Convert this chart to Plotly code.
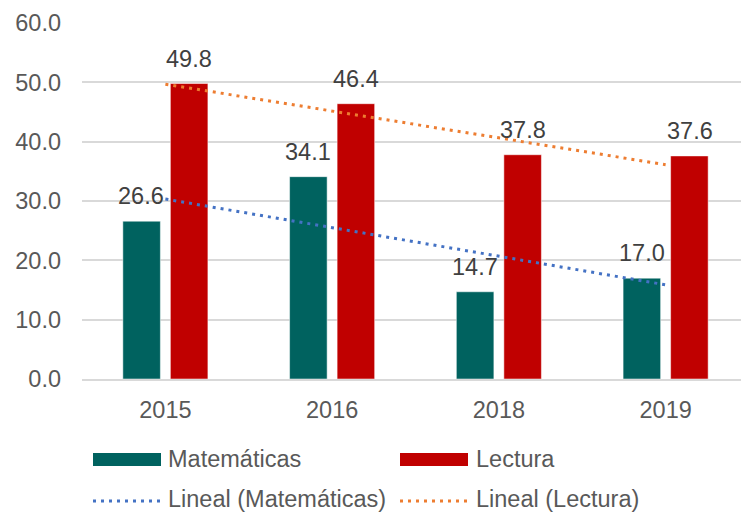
import numpy as np
import plotly.graph_objects as go

years = ["2015", "2016", "2018", "2019"]
matematicas = [26.6, 34.1, 14.7, 17.0]
lectura = [49.8, 46.4, 37.8, 37.6]
y_ticks = [0, 10, 20, 30, 40, 50, 60]
y_tick_labels = ["0.0", "10.0", "20.0", "30.0", "40.0", "50.0", "60.0"]

C_MAT = "#00625F"
C_LEC = "#C00000"
C_TMAT = "#4472C4"
C_TLEC = "#ED7D31"
FONT = "Liberation Sans, Arial, sans-serif"
FS = 23.5

# the page body adds an 8px offset; work in reference pixels and subtract it
OFF = 8
W, H = 749 - OFF, 512 - OFF

# linear trend (like Excel "Lineal") over category index 1..n
xi = np.arange(1, len(years) + 1)
def trend(vals):
    m, b = np.polyfit(xi, vals, 1)
    return list(m * xi + b)

fig = go.Figure()
fig.add_trace(go.Bar(x=years, y=matematicas, name="Matemáticas",
                     marker=dict(color=C_MAT, line=dict(color="rgba(255,255,255,0.5)", width=1))))
fig.add_trace(go.Bar(x=years, y=lectura, name="Lectura",
                     marker=dict(color=C_LEC, line=dict(color="rgba(255,255,255,0.5)", width=1))))
fig.add_trace(go.Scatter(x=years, y=trend(matematicas), mode="lines", name="Lineal (Matemáticas)",
                         line=dict(color=C_TMAT, width=3, dash="3px,5px")))
fig.add_trace(go.Scatter(x=years, y=trend(lectura), mode="lines", name="Lineal (Lectura)",
                         line=dict(color=C_TLEC, width=3, dash="3px,5px")))

# data labels (x given as category index)
annotations = []
for series, shift in ((matematicas, -24), (lectura, 24)):
    for i, v in enumerate(series):
        annotations.append(dict(x=i, y=v, xref="x", yref="y", text=f"{v:.1f}",
                                showarrow=False, xanchor="center", yanchor="bottom",
                                xshift=shift, yshift=10,
                                font=dict(family=FONT, size=FS, color="#404040")))

# custom legend (reference pixel -> paper helpers)
L, R, T, B = 82, 749, 23, 379
def px(x):
    return (x - L) / (R - L)
def py(y):
    return (B - y) / (B - T)

shapes = []
legend_items = [
    ("rect", C_MAT, 93, 161, 459.5, 166, "Matemáticas"),
    ("rect", C_LEC, 400, 468, 459.5, 474, "Lectura"),
    ("line", C_TMAT, 93, 161, 501, 166, "Lineal (Matemáticas)"),
    ("line", C_TLEC, 400, 468, 501, 474, "Lineal (Lectura)"),
]
for kind, col, x0, x1, yc, tx, label in legend_items:
    if kind == "rect":
        shapes.append(dict(type="rect", xref="paper", yref="paper",
                           x0=px(x0), x1=px(x1), y0=py(yc + 6.5), y1=py(yc - 6.5),
                           fillcolor=col, line=dict(width=0)))
        ty = yc - 1
    else:
        shapes.append(dict(type="line", xref="paper", yref="paper",
                           x0=px(x0), x1=px(x1), y0=py(yc), y1=py(yc),
                           line=dict(color=col, width=3, dash="3px,5px")))
        ty = yc - 2.5
    annotations.append(dict(x=px(tx), y=py(ty), xref="paper", yref="paper", text=label,
                            showarrow=False, xanchor="left", yanchor="middle",
                            font=dict(family=FONT, size=FS, color="#595959")))

fig.update_layout(
    width=W, height=H,
    margin=dict(l=L - OFF, r=749 - R, t=T - OFF, b=512 - B, autoexpand=False),
    paper_bgcolor="white", plot_bgcolor="white",
    barmode="group", bargap=0.43, bargroupgap=0.21,
    showlegend=False,
    font=dict(family=FONT, size=FS, color="#595959"),
    annotations=annotations, shapes=shapes,
    xaxis=dict(type="category", range=[-0.5, len(years) - 0.5], showgrid=False, showline=True,
               linecolor="#D9D9D9", linewidth=1.5,
               ticks="", ticklabelstandoff=9, tickfont=dict(family=FONT, size=FS, color="#595959")),
    yaxis=dict(range=[0, 60], tickvals=y_ticks, ticktext=y_tick_labels, showgrid=True,
               gridcolor="#D9D9D9", gridwidth=1.5, zeroline=False, showline=False, ticks="",
               ticklabelstandoff=20, tickfont=dict(family=FONT, size=FS, color="#595959")),
)

fig.write_html("out.html")
